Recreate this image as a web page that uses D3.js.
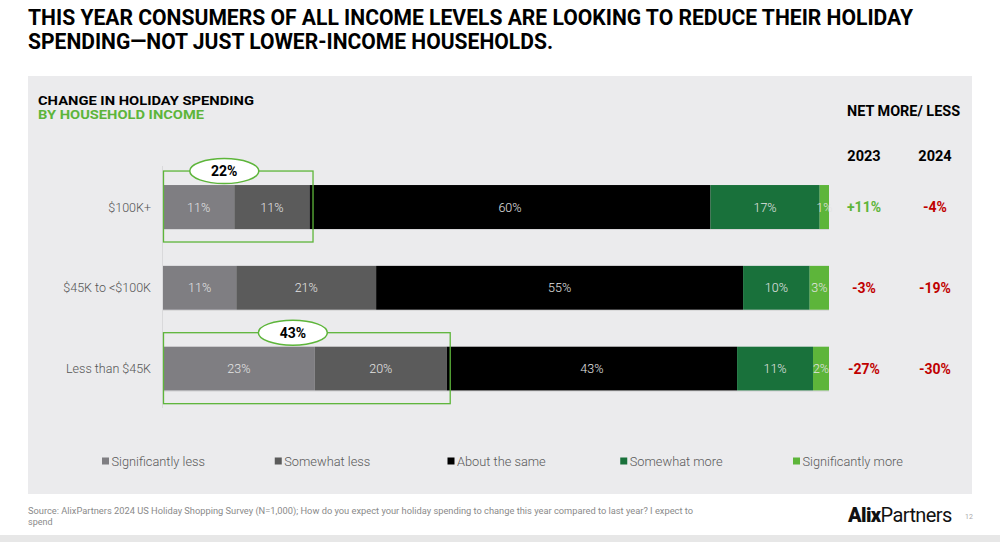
<!DOCTYPE html>
<html>
<head>
<meta charset="utf-8">
<script src="https://cdn.jsdelivr.net/npm/d3@7/dist/d3.min.js"></script>
<style>
  html, body { margin: 0; padding: 0; background: #ffffff; }
  svg { display: block; font-family: Roboto, "Noto Sans", sans-serif; }
</style>
</head>
<body>
<svg id="chart" width="1000" height="542"></svg>
<script>
// ---------- DATA ----------
const categories = ["$100K+", "$45K to <$100K", "Less than $45K"];
const seriesNames = ["Significantly less", "Somewhat less", "About the same", "Somewhat more", "Significantly more"];
// bar lengths (percent of respondents)
const significantlyLess = [10.7, 11.0, 22.8];
const somewhatLess      = [11.3, 21.0, 19.8];
const aboutTheSame      = [60.2, 55.1, 43.6];
const somewhatMore      = [16.4, 10.0, 11.4];
const significantlyMore = [1.4, 2.9, 2.4];
// printed segment labels
const significantlyLessLabels = ["11%", "11%", "23%"];
const somewhatLessLabels      = ["11%", "21%", "20%"];
const aboutTheSameLabels      = ["60%", "55%", "43%"];
const somewhatMoreLabels      = ["17%", "10%", "11%"];
const significantlyMoreLabels = ["1%", "3%", "2%"];
// net more / less
const netYears = ["2023", "2024"];
const net2023 = [11, -3, -27];
const net2024 = [-4, -19, -30];
// highlighted "total less" callouts
const highlightRows = ["$100K+", "Less than $45K"];
const highlightLabels = ["22%", "43%"];
// ---------- STYLE ----------
const seriesColors = ["#7f7e82", "#5b5b5b", "#000000", "#19713b", "#5db53a"];
const green = "#5db53a", red = "#c00000";

const seriesValues = [significantlyLess, somewhatLess, aboutTheSame, somewhatMore, significantlyMore];
const seriesLabels = [significantlyLessLabels, somewhatLessLabels, aboutTheSameLabels, somewhatMoreLabels, significantlyMoreLabels];

const svg = d3.select("#chart");

// page header
svg.append("text").attr("x", 28).attr("y", 25)
  .attr("font-size", 22).attr("font-weight", 700).attr("fill", "#000")
  .attr("textLength", 885).attr("lengthAdjust", "spacingAndGlyphs")
  .text("THIS YEAR CONSUMERS OF ALL INCOME LEVELS ARE LOOKING TO REDUCE THEIR HOLIDAY");
svg.append("text").attr("x", 28).attr("y", 49)
  .attr("font-size", 22).attr("font-weight", 700).attr("fill", "#000")
  .attr("textLength", 525).attr("lengthAdjust", "spacingAndGlyphs")
  .text("SPENDING\u2014NOT JUST LOWER-INCOME HOUSEHOLDS.");

// panel
svg.append("rect").attr("x", 28).attr("y", 76).attr("width", 944).attr("height", 418).attr("fill", "#ebebed");
svg.append("rect").attr("x", 0).attr("y", 535).attr("width", 1000).attr("height", 7).attr("fill", "#e7e7e7");

svg.append("text").attr("x", 38).attr("y", 104.5)
  .attr("font-size", 12).attr("font-weight", 700).attr("fill", "#000")
  .attr("textLength", 216).attr("lengthAdjust", "spacingAndGlyphs")
  .text("CHANGE IN HOLIDAY SPENDING");
svg.append("text").attr("x", 38).attr("y", 118.5)
  .attr("font-size", 12).attr("font-weight", 700).attr("fill", green)
  .attr("textLength", 166).attr("lengthAdjust", "spacingAndGlyphs")
  .text("BY HOUSEHOLD INCOME");

// scales
const x = d3.scaleLinear().domain([0, 100]).range([163, 829]);
const y = d3.scaleBand().domain(categories).range([166.6, 409.1]).paddingInner(0.456).paddingOuter(0.228);

// faint axis line
svg.append("line").attr("x1", 162.5).attr("x2", 162.5).attr("y1", 166).attr("y2", 408)
  .attr("stroke", "#d9d9db").attr("stroke-width", 1);

// stacked data
const rows = categories.map((c, i) => {
  let acc = 0;
  return seriesValues.map((vals, s) => {
    const seg = { cat: c, s, x0: acc, x1: acc + vals[i], label: seriesLabels[s][i] };
    acc += vals[i];
    return seg;
  });
});
const segs = rows.flat();

svg.append("g").selectAll("rect").data(segs).join("rect")
  .attr("x", d => x(d.x0)).attr("width", d => x(d.x1) - x(d.x0))
  .attr("y", d => y(d.cat)).attr("height", y.bandwidth())
  .attr("fill", d => seriesColors[d.s]);

svg.append("g").selectAll("line").data(categories).join("line")
  .attr("x1", x(0)).attr("x2", x(100))
  .attr("y1", d => y(d) + y.bandwidth() + 0.5).attr("y2", d => y(d) + y.bandwidth() + 0.5)
  .attr("stroke", "#d6d6d8").attr("stroke-width", 1);

svg.append("g").selectAll("text").data(segs).join("text")
  .attr("x", d => x((d.x0 + d.x1) / 2)).attr("y", d => y(d.cat) + y.bandwidth() / 2 + 4.5)
  .attr("text-anchor", "middle").attr("font-size", 12.5).attr("font-weight", 300)
  .attr("fill", "#e4e4e4").text(d => d.label);

// category labels
svg.append("g").selectAll("text").data(categories).join("text")
  .attr("x", 151).attr("y", d => y(d) + y.bandwidth() / 2 + 4.5)
  .attr("text-anchor", "end").attr("font-size", 12.5).attr("font-weight", 300)
  .attr("fill", "#555555").text(d => d);

// highlight boxes
const hl = svg.append("g");
highlightRows.forEach((c, k) => {
  const i = categories.indexOf(c);
  const total = significantlyLess[i] + somewhatLess[i];
  const top = y(c) - 14, bottom = y(c) + y.bandwidth() + 13;
  hl.append("rect").attr("x", x(0) + 0.5).attr("y", top)
    .attr("width", x(total) + 3 - x(0)).attr("height", bottom - top)
    .attr("fill", "none").attr("stroke", green).attr("stroke-width", 1.3);
  const cx = x(total / 2) - 12;
  hl.append("ellipse").attr("cx", cx).attr("cy", top).attr("rx", 34.5).attr("ry", 12.5)
    .attr("fill", "#ffffff").attr("stroke", green).attr("stroke-width", 1.5);
  hl.append("text").attr("x", cx).attr("y", top + 5)
    .attr("text-anchor", "middle").attr("font-size", 14).attr("font-weight", 700)
    .attr("fill", "#000").text(highlightLabels[k]);
});

// net more / less table
const netX = d3.scalePoint().domain(netYears).range([864, 935]);
svg.append("text").attr("x", 903.5).attr("y", 116).attr("text-anchor", "middle")
  .attr("font-size", 14).attr("font-weight", 700).attr("fill", "#000")
  .attr("textLength", 113).attr("lengthAdjust", "spacingAndGlyphs")
  .text("NET MORE/ LESS");
svg.append("g").selectAll("text").data(netYears).join("text")
  .attr("x", d => netX(d)).attr("y", 161).attr("text-anchor", "middle")
  .attr("font-size", 14.5).attr("font-weight", 700).attr("fill", "#000").text(d => d);
const fmt = v => (v > 0 ? "+" : "") + v + "%";
[net2023, net2024].forEach((arr, j) => {
  svg.append("g").selectAll("text").data(arr).join("text")
    .attr("x", netX(netYears[j])).attr("y", (d, i) => y(categories[i]) + y.bandwidth() / 2 + 5)
    .attr("text-anchor", "middle").attr("font-size", 14).attr("font-weight", 700)
    .attr("fill", d => d > 0 ? green : red).text(d => fmt(d));
});

// legend
const lx = d3.scalePoint().domain(seriesNames).range([102, 793]);
const lg = svg.append("g").selectAll("g").data(seriesNames).join("g")
  .attr("transform", d => `translate(${lx(d)},461)`);
lg.append("rect").attr("x", 0).attr("y", -3.5).attr("width", 7).attr("height", 7)
  .attr("fill", (d, i) => seriesColors[i]);
lg.append("text").attr("x", 9.5).attr("y", 4.5).attr("font-size", 12.8).attr("font-weight", 300)
  .attr("fill", "#595959").text(d => d);

// footer
svg.append("text").attr("x", 28).attr("y", 514).attr("font-size", 9).attr("fill", "#8a8a8a")
  .attr("textLength", 665).attr("lengthAdjust", "spacingAndGlyphs")
  .text("Source: AlixPartners 2024 US Holiday Shopping Survey (N=1,000); How do you expect your holiday spending to change this year compared to last year? I expect to");
svg.append("text").attr("x", 28).attr("y", 525).attr("font-size", 9).attr("fill", "#8a8a8a").text("spend");

const logo = svg.append("text").attr("x", 848).attr("y", 522).attr("font-size", 20).attr("fill", "#111")
  .attr("letter-spacing", -0.6);
logo.append("tspan").attr("font-weight", 900).text("Alix");
logo.append("tspan").attr("font-weight", 400).text("Partners");
svg.append("text").attr("x", 965).attr("y", 519).attr("font-size", 7).attr("fill", "#aaaaaa").text("12");
</script>
</body>
</html>
